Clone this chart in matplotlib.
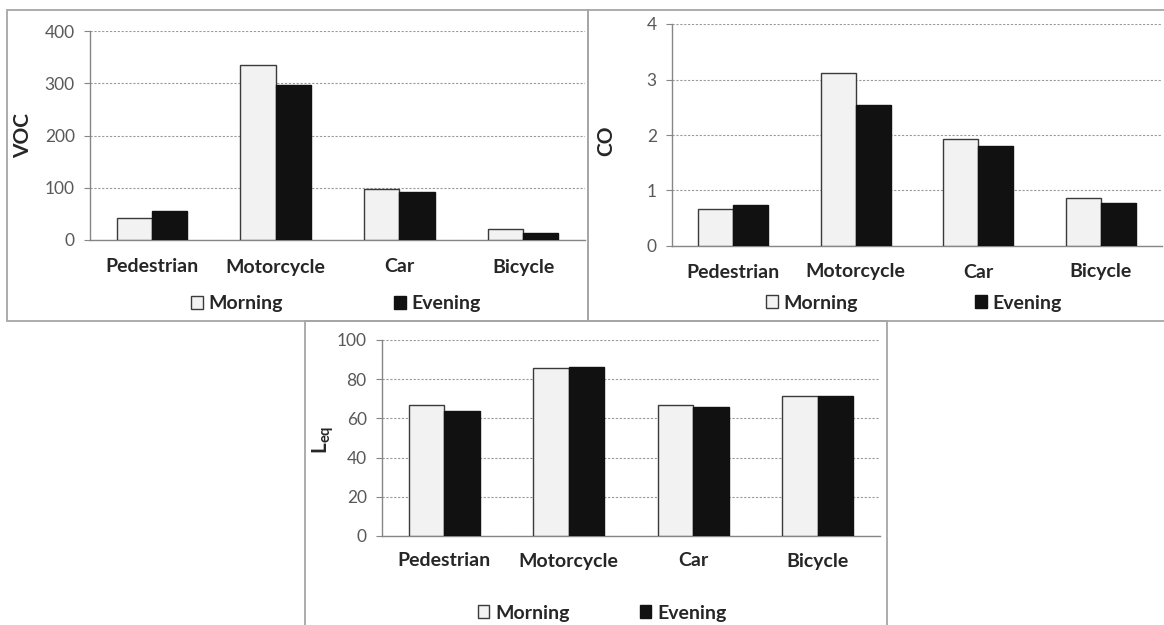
import numpy as np
import matplotlib
matplotlib.use('Agg')
import matplotlib.pyplot as plt
from matplotlib.patches import Rectangle

plt.rcParams['font.family'] = ['Lato', 'DejaVu Sans']
plt.rcParams['mathtext.fontset'] = 'custom'
plt.rcParams['mathtext.rm'] = 'Lato'
plt.rcParams['mathtext.bf'] = 'Lato:bold'

# ── data ──
categories = ['Pedestrian', 'Motorcycle', 'Car', 'Bicycle']
series = ['Morning', 'Evening']

voc_morning = [43, 334, 97, 22]
voc_evening = [56, 296, 91, 14]
co_morning = [0.67, 3.11, 1.92, 0.87]
co_evening = [0.73, 2.54, 1.80, 0.78]
leq_morning = [66.7, 85.7, 66.7, 71.2]
leq_evening = [64.0, 86.3, 65.9, 71.2]

voc_ticks = [0, 100, 200, 300, 400]
co_ticks = [0, 1, 2, 3, 4]
leq_ticks = [0, 20, 40, 60, 80, 100]

W, H = 1164, 625
fig = plt.figure(figsize=(W / 100, H / 100), dpi=100)
fig.patch.set_facecolor('white')

FRAME = '#a6a6a6'
TICKCOL = '#595959'
AXCOL = '#868686'
TXT = '#262626'


def px_rect(x0, y0, x1, y1):
    return [x0 / W, 1 - y1 / H, (x1 - x0) / W, (y1 - y0) / H]


def frame(x0, y0, x1, y1):
    fig.patches.append(Rectangle((x0 / W, 1 - y1 / H), (x1 - x0) / W, (y1 - y0) / H,
                                 transform=fig.transFigure, fill=False,
                                 edgecolor=FRAME, linewidth=1.3, zorder=0))


def panel(rect, morning, evening, ticks, ylabel, ylab_xy, label_y,
          legend_xy, colspace):
    ax = fig.add_axes(px_rect(*rect))
    x = np.arange(len(categories))
    w = 0.285
    ax.bar(x - w / 2, morning, w, color='#f2f2f2', edgecolor='#3a3a3a',
           linewidth=1.0, label=series[0], zorder=3)
    ax.bar(x + w / 2, evening, w, color='#111111', edgecolor='#111111',
           linewidth=1.0, label=series[1], zorder=3)
    ax.set_xlim(-0.5, len(categories) - 0.5)
    ax.set_ylim(ticks[0], ticks[-1])
    ax.set_yticks(ticks)
    ax.set_yticklabels([str(t) for t in ticks], color=TICKCOL, fontsize=12.5)
    ax.yaxis.grid(True, linestyle=(0, (2, 1.5)), color='#9a9a9a', linewidth=0.8)
    ax.set_axisbelow(True)
    for s in ['top', 'right']:
        ax.spines[s].set_visible(False)
    for s in ['left', 'bottom']:
        ax.spines[s].set_color(AXCOL)
        ax.spines[s].set_linewidth(1.0)
    ax.tick_params(axis='y', length=4, color=AXCOL, pad=7)
    ax.tick_params(axis='x', length=0)
    ax.set_xticks(x)
    ax.set_xticklabels([])

    # category names sit lower than usual tick labels
    x0, y0, x1, y1 = rect
    for i, c in enumerate(categories):
        xp = x0 + (x1 - x0) * (i + 0.5) / len(categories)
        fig.text(xp / W, 1 - label_y / H, c, ha='center', va='center',
                 fontsize=14, fontweight='bold', color=TXT)
    fig.text(ylab_xy[0] / W, 1 - ylab_xy[1] / H, ylabel, rotation=90,
             ha='center', va='center', fontsize=15, fontweight='bold', color=TXT)

    leg = ax.legend(loc='center', bbox_to_anchor=(legend_xy[0] / W, 1 - legend_xy[1] / H),
                    bbox_transform=fig.transFigure, ncol=2, frameon=False,
                    handlelength=0.6, handleheight=0.6, handletextpad=0.3,
                    columnspacing=colspace, borderpad=0,
                    prop={'size': 14, 'weight': 'bold'})
    for t in leg.get_texts():
        t.set_color(TXT)
    return ax


frame(7, 10, 588, 321)
frame(588, 10, 1170, 321)
frame(305, 321, 887, 630)

panel((90, 31, 585, 240), voc_morning, voc_evening, voc_ticks,
      'VOC', (23, 136), 267, (336, 304), 5.7)
panel((672, 24, 1162, 246), co_morning, co_evening, co_ticks,
      'CO', (606, 141), 272, (914, 303), 6.0)
panel((382, 340, 880, 536), leq_morning, leq_evening, leq_ticks,
      r'$\mathbf{L_{eq}}$', (323, 440), 561, (602, 613), 3.6)

fig.savefig('out.png', dpi=100, facecolor='white')
